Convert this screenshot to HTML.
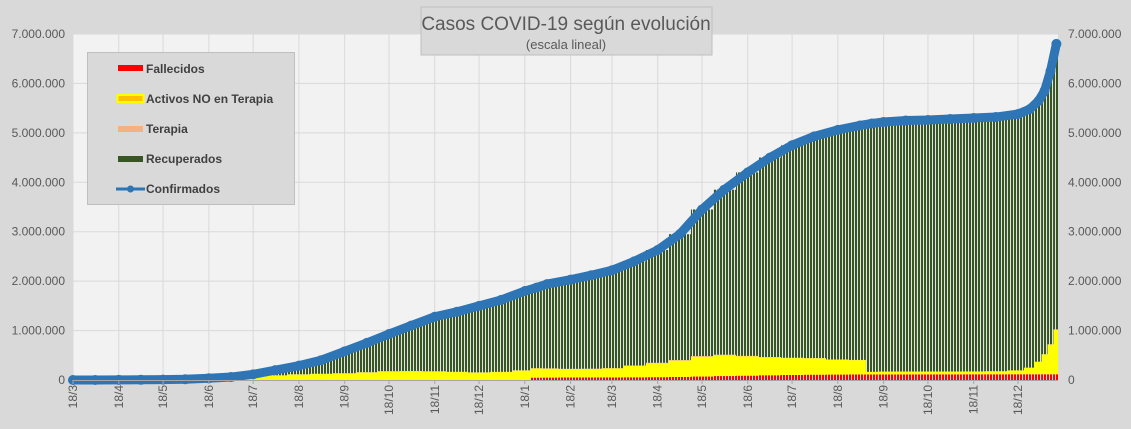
<!DOCTYPE html>
<html><head><meta charset="utf-8"><style>
html,body{margin:0;padding:0;background:#d9d9d9;}
svg{display:block;font-family:"Liberation Sans",sans-serif;}
</style></head><body>
<svg id="chart" width="1131" height="429" viewBox="0 0 1131 429" xmlns="http://www.w3.org/2000/svg">
<defs>
<pattern id="gStripe" patternUnits="userSpaceOnUse" width="3" height="10"><rect width="3" height="10" fill="#f4f4f4"/><rect width="2.1" height="10" fill="#375623"/></pattern>
<pattern id="rStripe" patternUnits="userSpaceOnUse" width="3" height="10"><rect width="3" height="10" fill="#f4f4f4"/><rect width="2.1" height="10" fill="#ff0000"/></pattern>
</defs>
<rect x="0" y="0" width="1131" height="429" fill="#d9d9d9"/>
<rect x="73" y="34" width="985" height="346" fill="#f2f2f2"/>
<g id="grid"></g>
<g id="bars"></g>
<g id="line"></g>
<g id="axes"></g>
<g>
<rect x="421" y="7" width="291" height="48" fill="#d9d9d9" stroke="#bfbfbf" stroke-width="1"/>
<text x="566" y="30" text-anchor="middle" font-size="19" fill="#595959">Casos COVID-19 según evolución</text>
<text x="566" y="49" text-anchor="middle" font-size="13" fill="#595959">(escala lineal)</text>
</g>
<g>
<rect x="87.5" y="52.5" width="207" height="152" fill="#d9d9d9" stroke="#bfbfbf"/>
<g><rect x="118" y="65" width="25" height="6" fill="#ff0000"/><text x="146" y="73" font-size="12" font-weight="bold" fill="#404040">Fallecidos</text></g>
<g><rect x="117.5" y="95" width="26" height="7" fill="#ffc000" stroke="#ffff00" stroke-width="2"/><text x="146" y="103" font-size="12" font-weight="bold" fill="#404040">Activos NO en Terapia</text></g>
<g><rect x="118" y="126" width="25" height="6" fill="#f4b183"/><text x="146" y="133" font-size="12" font-weight="bold" fill="#404040">Terapia</text></g>
<g><rect x="118" y="156" width="25" height="6" fill="#375623"/><text x="146" y="163" font-size="12" font-weight="bold" fill="#404040">Recuperados</text></g>
<g><line x1="116" y1="189" x2="145" y2="189" stroke="#2e75b6" stroke-width="3"/><circle cx="130.5" cy="189" r="3.5" fill="#2e75b6"/><text x="146" y="193" font-size="12" font-weight="bold" fill="#404040">Confirmados</text></g>
</g>
</svg>
<script>
// days since 18/3/2020
const days = [0,15,31,46,61,76,92,107,122,137,153,168,184,199,214,229,245,260,275,290,306,314,321,337,351,365,380,396,411,426,441,457,472,487,502,518,533,541,549,564,579,594,610,625,640,648,654,658,662,666];
// values in thousands
const confirmados = [0.1,1,2.5,4.5,8,15,35,60,115,200,290,400,580,750,930,1100,1280,1380,1500,1620,1800,1870,1940,2030,2120,2220,2400,2630,2950,3450,3850,4200,4500,4750,4930,5060,5150,5190,5220,5250,5260,5280,5300,5320,5380,5480,5650,5850,6250,6800];
const activos = [0.1,1,2,3,5,8,20,35,60,90,110,120,130,150,170,175,170,160,150,160,190,185,180,170,170,180,230,280,330,400,420,390,360,340,330,300,290,50,55,55,55,55,55,60,75,130,250,400,600,900];
const fallecidos = [0,0,0,0,0,0,0,0,0,0,0,0,0,0,0,0,0,0,0,0,0,48,49,51,53,54,56,58,62,70,80,88,97,103,108,110,112,112,113,114,115,115,116,116,117,117,117,117,117,117];
const terapia = [0,0,0,1,1,1,2,3,4,5,6,7,8,9,9,8,7,6,5,5,6,6,6,5,5,6,8,10,12,14,12,10,8,7,6,5,4,3,3,3,2,2,2,2,2,3,4,5,6,7];
const yTicks = [0,1000,2000,3000,4000,5000,6000,7000];
const yTickLabels = ["0","1.000.000","2.000.000","3.000.000","4.000.000","5.000.000","6.000.000","7.000.000"];
const monthDays = [0,31,61,92,122,153,184,214,245,275,306,337,365,396,426,457,487,518,549,579,610,640];
const monthLabels = ["18/3","18/4","18/5","18/6","18/7","18/8","18/9","18/10","18/11","18/12","18/1","18/2","18/3","18/4","18/5","18/6","18/7","18/8","18/9","18/10","18/11","18/12"];

const NS="http://www.w3.org/2000/svg";
const X0=73,X1=1058,Y0=380,Y1=34;
const xS=d=>X0+d*(1018-73)/640;
const yS=v=>Y0-v*(Y0-Y1)/7000;
function mk(tag,attrs,parent){const e=document.createElementNS(NS,tag);for(const k in attrs)e.setAttribute(k,attrs[k]);parent.appendChild(e);return e;}
const grid=document.getElementById('grid'),bars=document.getElementById('bars'),line=document.getElementById('line'),axes=document.getElementById('axes');
yTicks.forEach((t,i)=>{
  const g=mk('line',{x1:X0,x2:X1,y1:yS(t),y2:yS(t),stroke:'#d9d9d9','stroke-width':1},grid);
  
  
  const l=mk('text',{x:65,y:yS(t)+4,'text-anchor':'end','font-size':12,fill:'#595959'},axes);
  l.textContent=yTickLabels[i];
  
  
  const r=mk('text',{x:1068,y:yS(t)+4,'font-size':12,fill:'#595959'},axes);
  r.textContent=yTickLabels[i];
  
  
});
monthDays.forEach((d,i)=>{
  const x=xS(d);
  const g=mk('line',{x1:x,x2:x,y1:Y1,y2:Y0,stroke:'#d9d9d9','stroke-width':1},grid);
  
  
  const tk=mk('line',{x1:x,x2:x,y1:Y0,y2:Y0+4,stroke:'#a6a6a6'},axes);
  
  
  const t=mk('text',{x:0,y:0,'text-anchor':'end','font-size':12,fill:'#595959',transform:`translate(${x+4},${Y0+5}) rotate(-90)`},axes);
  t.textContent=monthLabels[i];
  
  
});
const ax=mk('line',{x1:X0,x2:X1,y1:Y0+0.5,y2:Y0+0.5,stroke:'#a6a6a6'},axes);



days.forEach((d,i)=>{
  const xl=i===0?X0:(xS(days[i-1])+xS(d))/2;
  const xr=i===days.length-1?X1:(xS(d)+xS(days[i+1]))/2;
  const rec=Math.max(0,confirmados[i]-activos[i]-fallecidos[i]-terapia[i]);
  const segs=[[fallecidos[i],'url(#rStripe)','bar-fallecidos'],[activos[i],'#ffff00','bar-activos'],[terapia[i],'#f4b183','bar-terapia'],[rec,'url(#gStripe)','bar-recuperados']];
  let base=0;
  segs.forEach(s=>{
    if(s[0]<=0)return;
    const yt=yS(base+s[0]),yb=yS(base);
    const r=mk('rect',{x:xl,y:yt,width:xr-xl,height:yb-yt,fill:s[1]},bars);
    
    
    base+=s[0];
  });
});
const pts=days.map((d,i)=>xS(d)+','+yS(confirmados[i])).join(' ');
const pl=mk('polyline',{points:pts,fill:'none',stroke:'#2e75b6','stroke-width':9,'stroke-linejoin':'round','stroke-linecap':'round'},line);


days.forEach((d,i)=>{
  const c=mk('circle',{cx:xS(d),cy:yS(confirmados[i]),r:5,fill:'#2e75b6'},line);
  
  
});
</script>
</body></html>
